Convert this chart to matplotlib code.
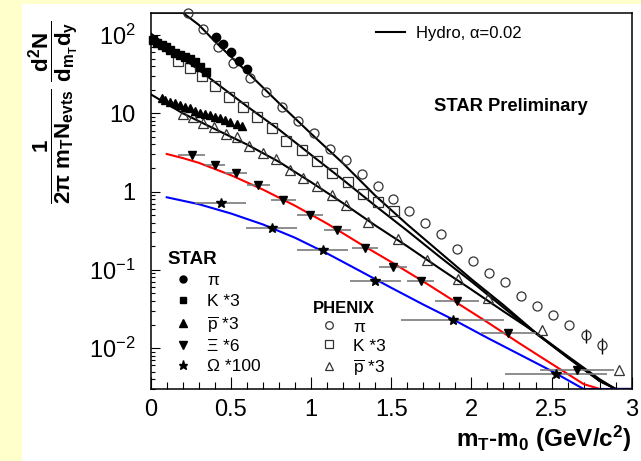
import numpy as np
import matplotlib
matplotlib.use("Agg")
import matplotlib.pyplot as plt
from matplotlib.lines import Line2D
from matplotlib.patches import Rectangle
from matplotlib.ticker import FixedLocator, MultipleLocator, LogLocator, NullFormatter, FixedFormatter

plt.rcParams['font.family'] = ['Liberation Sans', 'DejaVu Sans']
plt.rcParams['mathtext.fontset'] = 'custom'
plt.rcParams['mathtext.rm'] = 'Liberation Sans'
plt.rcParams['mathtext.it'] = 'Liberation Sans'
plt.rcParams['mathtext.bf'] = 'Liberation Sans:bold'

# ---------------- data ----------------
# STAR (filled symbols)
star_pi_x = [0.407, 0.45, 0.50, 0.551, 0.60]
star_pi_y = [95, 76, 60, 46.8, 37]

star_k_x = [0.016, 0.041, 0.068, 0.096, 0.12, 0.152, 0.183, 0.214, 0.245, 0.277, 0.308, 0.345]
star_k_y = [86.3, 79.8, 74.5, 69.7, 64.3, 59.4, 55.6, 52.8, 49.0, 44.8, 39.4, 34.0]

star_pbar_x = [0.069, 0.089, 0.120, 0.152, 0.183, 0.214, 0.245, 0.276, 0.308, 0.339,
               0.370, 0.401, 0.432, 0.464, 0.495, 0.536, 0.568]
star_pbar_y = [15.5, 14.8, 14.1, 13.4, 12.6, 11.9, 11.6, 10.8, 10.2, 9.8,
               9.4, 9.1, 8.6, 8.2, 7.8, 7.4, 6.9]

star_xi_x = [0.256, 0.401, 0.532, 0.671, 0.827, 0.994, 1.164, 1.337, 1.51, 1.684, 1.909, 2.231, 2.657]
star_xi_y = [2.93, 2.19, 1.71, 1.21, 0.78, 0.50, 0.324, 0.189, 0.108, 0.071, 0.040, 0.0155, 0.0052]
star_xi_xerr = [0.083, 0.062, 0.07, 0.073, 0.078, 0.083, 0.085, 0.083, 0.086, 0.085, 0.138, 0.17, 0.23]

star_om_x = [0.437, 0.755, 1.073, 1.40, 1.884, 2.528]
star_om_y = [0.72, 0.34, 0.18, 0.072, 0.0229, 0.0047]
star_om_xerr = [0.16, 0.16, 0.16, 0.16, 0.32, 0.32]

# PHENIX (open symbols)
phx_pi_x = [0.235, 0.328, 0.422, 0.515, 0.62, 0.719, 0.817, 0.917, 1.019, 1.119, 1.218, 1.316,
            1.416, 1.513, 1.613, 1.713, 1.811, 1.911, 2.012, 2.112, 2.21, 2.31, 2.408, 2.51,
            2.611, 2.714, 2.813]
phx_pi_y = [190, 118, 71, 44.3, 28, 18.9, 11.9, 8.0, 5.56, 3.47, 2.54, 1.68,
            1.18, 0.805, 0.57, 0.40, 0.285, 0.187, 0.131, 0.091, 0.0706, 0.0464, 0.0346, 0.0265,
            0.0198, 0.0145, 0.0108]
phx_pi_yerr = [0, 0, 0, 0, 0, 0, 0, 0, 0, 0, 0, 0,
               0, 0, 0, 0, 0, 0, 0, 0, 0, 0, 0, 0,
               0, 0.0028, 0.0025]

phx_k_x = [0.172, 0.243, 0.318, 0.401, 0.487, 0.574, 0.665, 0.755, 0.844, 0.942, 1.036,
           1.131, 1.228, 1.323, 1.42, 1.516]
phx_k_y = [47, 38, 29.7, 22.3, 16.3, 11.9, 8.9, 6.4, 4.47, 3.4, 2.44,
           1.75, 1.33, 0.94, 0.74, 0.557]

phx_pbar_x = [0.2, 0.262, 0.324, 0.395, 0.47, 0.54, 0.615, 0.703, 0.782, 0.869, 0.952,
              1.039, 1.129, 1.218, 1.357, 1.545, 1.726, 1.915, 2.106, 2.439, 2.923]
phx_pbar_y = [9.8, 9.1, 7.6, 6.6, 5.4, 4.93, 3.82, 3.14, 2.58, 1.89, 1.48,
              1.18, 0.906, 0.675, 0.413, 0.246, 0.134, 0.076, 0.0433, 0.017, 0.0052]

# Hydro curves (alpha = 0.02)
hydro_pi_x = [0, 0.2, 0.3, 0.4, 0.6, 0.8, 1.0, 1.2, 1.4, 1.6, 1.8, 2.0, 2.2, 2.4, 2.6, 2.8, 2.9, 3.0]
hydro_pi_y = [355, 193, 135, 83, 33.9, 13.5, 5.5, 2.29, 0.89, 0.38, 0.17, 0.076, 0.0355,
              0.0158, 0.0076, 0.0038, 0.0028, 0.0016]

hydro_k_x = [0, 0.2, 0.4, 0.6, 0.8, 1.0, 1.2, 1.4, 1.6, 1.8, 2.0, 2.2, 2.4, 2.6, 2.8, 2.9, 3.0]
hydro_k_y = [105, 51, 25.1, 12.3, 6.2, 2.95, 1.41, 0.66, 0.316, 0.148, 0.071, 0.033,
             0.0155, 0.0076, 0.0038, 0.0027, 0.002]

hydro_pbar_x = [0, 0.2, 0.4, 0.6, 0.8, 1.0, 1.2, 1.4, 1.6, 1.8, 2.0, 2.2, 2.4, 2.6, 2.8, 2.9, 3.0]
hydro_pbar_y = [17.5, 10.0, 6.3, 4.0, 2.4, 1.32, 0.71, 0.37, 0.20, 0.105, 0.056, 0.0295,
                0.0158, 0.0079, 0.004, 0.0028, 0.002]

hydro_xi_x = [0.1, 0.2, 0.3, 0.5, 0.7, 0.9, 1.1, 1.3, 1.5, 1.7, 1.9, 2.1, 2.3, 2.5, 2.7, 2.8, 2.9, 3.0]
hydro_xi_y = [3.02, 2.68, 2.33, 1.62, 1.06, 0.66, 0.39, 0.219, 0.126, 0.071, 0.039, 0.0214, 0.0115,
              0.0063, 0.00347, 0.00257, 0.0019, 0.0014]

hydro_om_x = [0.1, 0.3, 0.5, 0.7, 0.9, 1.1, 1.3, 1.5, 1.7, 1.9, 2.1, 2.3, 2.5, 2.7, 2.8, 3.0]
hydro_om_y = [0.845, 0.69, 0.525, 0.38, 0.257, 0.162, 0.098, 0.059, 0.036, 0.0224, 0.0135,
              0.0083, 0.0051, 0.0030, 0.00224, 0.00126]

y_ticks = [1e-2, 1e-1, 1, 10, 100]
y_tick_labels = [r"$10^{-2}$", r"$10^{-1}$", "1", "10", r"$10^{2}$"]
x_ticks = [0, 0.5, 1, 1.5, 2, 2.5, 3]
x_tick_labels = ["0", "0.5", "1", "1.5", "2", "2.5", "3"]

YMIN, YMAX = 0.0030, 193
XMIN, XMAX = 0, 3

# ---------------- figure ----------------
fig = plt.figure(figsize=(6.41, 4.61), dpi=100, facecolor='#FFFFCC')
fig.patches.append(Rectangle((22 / 641, 0), 1 - 22 / 641, 1 - 4 / 461, transform=fig.transFigure,
                             facecolor='white', edgecolor='none', zorder=-10))
ax = fig.add_axes([150.7 / 641, 1 - 389 / 461, 481 / 641, 376.3 / 461])
ax.set_yscale('log')
ax.set_xlim(XMIN, XMAX)
ax.set_ylim(YMIN, YMAX)

def clipped(v):
    return np.clip(np.asarray(v, dtype=float), YMIN, YMAX)

lw = 1.5
ax.plot(hydro_pi_x, clipped(hydro_pi_y), color='k', lw=lw, zorder=2)
ax.plot(hydro_k_x, clipped(hydro_k_y), color='k', lw=lw, zorder=2)
ax.plot(hydro_pbar_x, clipped(hydro_pbar_y), color='k', lw=lw, zorder=2)
ax.plot(hydro_xi_x, clipped(hydro_xi_y), color='#ff0000', lw=lw, zorder=2)
ax.plot(hydro_om_x, clipped(hydro_om_y), color='#0000ff', lw=lw, zorder=2)

ecol = '#7a7a7a'
ax.errorbar(star_xi_x, star_xi_y, xerr=star_xi_xerr, fmt='v', color='k', ms=6,
            ecolor=ecol, elinewidth=1.2, capsize=0, zorder=4)
ax.errorbar(star_om_x, star_om_y, xerr=star_om_xerr, fmt='*', color='k', ms=7,
            ecolor=ecol, elinewidth=1.2, capsize=0, zorder=4)

ax.plot(star_pi_x, star_pi_y, 'o', color='k', ms=6, zorder=4)
ax.plot(star_k_x, star_k_y, 's', color='k', ms=5.5, zorder=4, clip_on=False)
ax.plot(star_pbar_x, star_pbar_y, '^', color='k', ms=6, zorder=4)

oc = '#333333'
ax.errorbar(phx_pi_x, phx_pi_y, yerr=phx_pi_yerr, fmt='o', mfc='none', mec=oc, ms=6.5, mew=0.9,
            ecolor='k', elinewidth=1.0, capsize=0, zorder=3, clip_on=False)
ax.plot(phx_k_x, phx_k_y, 's', mfc='none', mec=oc, ms=6.5, mew=0.9, zorder=3)
ax.plot(phx_pbar_x, phx_pbar_y, '^', mfc='none', mec=oc, ms=7, mew=0.9, zorder=3)

# axes styling
for s in ax.spines.values():
    s.set_linewidth(1.1)
ax.yaxis.set_major_locator(FixedLocator(y_ticks))
ax.yaxis.set_major_formatter(FixedFormatter(y_tick_labels))
ax.yaxis.set_minor_locator(LogLocator(base=10, subs=np.arange(2, 10)))
ax.yaxis.set_minor_formatter(NullFormatter())
ax.xaxis.set_major_locator(FixedLocator(x_ticks))
ax.xaxis.set_major_formatter(FixedFormatter(x_tick_labels))
ax.xaxis.set_minor_locator(MultipleLocator(0.1))
ax.tick_params(axis='both', which='both', direction='in', top=False, right=False, width=0.8)
ax.tick_params(axis='x', which='major', length=9, pad=7, labelsize=17)
ax.tick_params(axis='x', which='minor', length=4.8)
ax.tick_params(axis='y', which='major', length=6.7, pad=11, labelsize=17)
ax.tick_params(axis='y', which='minor', length=3.1)

ax.set_xlabel(r"m$_\mathbf{T}$-m$_\mathbf{0}$ (GeV/c$^\mathbf{2}$)", fontsize=17.5,
              fontweight='bold', loc='right', labelpad=2)
fig.text(54 / 641, 1 - 21 / 461,
         r"$\mathbf{\dfrac{1}{2\pi\ m_{T}N_{evts}}\ \dfrac{d^{2}N}{d_{m_{T}}d_{y}}}$",
         rotation=90, ha='center', va='top', fontsize=16)

ax.text(0.59, 0.752, "STAR Preliminary", transform=ax.transAxes, fontsize=13.2,
        fontweight='bold', ha='left', va='center')

# legends
hyd = ax.legend([Line2D([], [], color='k', lw=lw)], ["Hydro, α=0.02"], loc='upper left',
                bbox_to_anchor=(0.468, 0.965), frameon=False, fontsize=12, handlelength=1.75,
                handletextpad=0.65, borderpad=0, borderaxespad=0)
ax.add_artist(hyd)

star_handles = [Line2D([], [], ls='none', marker='o', color='k', ms=5),
                Line2D([], [], ls='none', marker='s', color='k', ms=5),
                Line2D([], [], ls='none', marker='^', color='k', ms=5.5),
                Line2D([], [], ls='none', marker='v', color='k', ms=5.5),
                Line2D([], [], ls='none', marker='*', color='k', ms=6.5)]
star_labels = ["π", "K *3", r"$\overline{\mathrm{p}}$ *3", "Ξ *6", "Ω *100"]
leg1 = ax.legend(star_handles, star_labels, loc='upper left', bbox_to_anchor=(0.0345, 0.367),
                 frameon=False, fontsize=12.5, title='STAR',
                 title_fontproperties={'weight': 'bold', 'size': 13.5}, alignment='left',
                 handlelength=1.8, handletextpad=0.5, labelspacing=0.3, borderpad=0,
                 borderaxespad=0, numpoints=1)
ax.add_artist(leg1)

phx_handles = [Line2D([], [], ls='none', marker='o', mfc='none', mec=oc, ms=5.5, mew=0.9),
               Line2D([], [], ls='none', marker='s', mfc='none', mec=oc, ms=5.5, mew=0.9),
               Line2D([], [], ls='none', marker='^', mfc='none', mec=oc, ms=6, mew=0.9)]
phx_labels = ["π", "K *3", r"$\overline{\mathrm{p}}$ *3"]
leg2 = ax.legend(phx_handles, phx_labels, loc='upper left', bbox_to_anchor=(0.338, 0.235),
                 frameon=False, fontsize=12.5, title='PHENIX',
                 title_fontproperties={'weight': 'bold', 'size': 12}, alignment='left',
                 handlelength=1.8, handletextpad=0.5, labelspacing=0.22, borderpad=0,
                 borderaxespad=0, numpoints=1)

fig.savefig('out.png', dpi=100, facecolor=fig.get_facecolor())
